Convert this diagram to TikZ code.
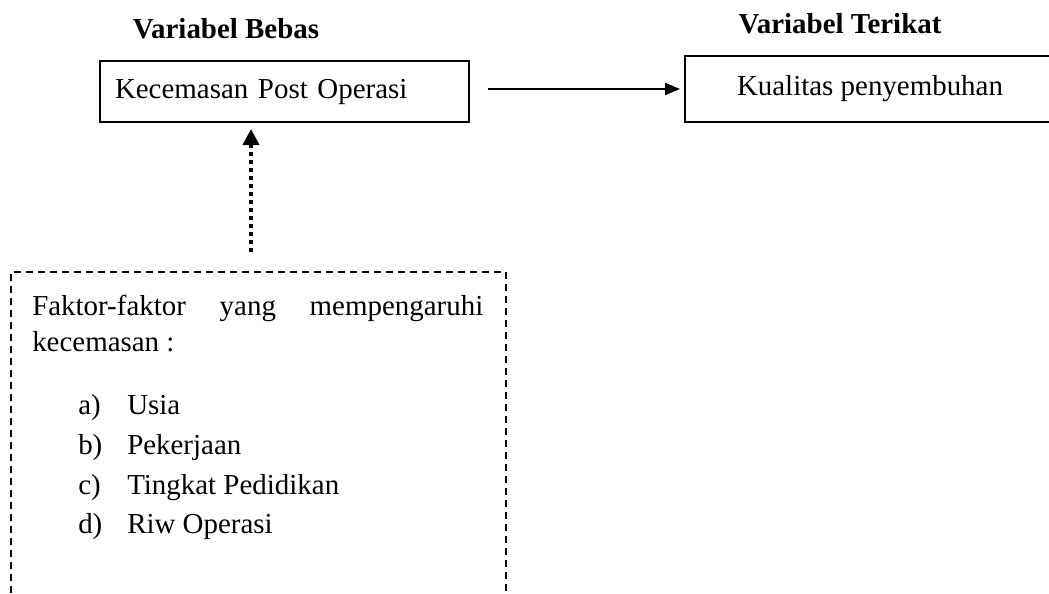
\documentclass[tikz,border=0pt]{standalone}
\usepackage{fontspec}
\setmainfont{Liberation Serif}
\usetikzlibrary{arrows.meta}
\begin{document}
\begin{tikzpicture}[x=0.75pt,y=-0.75pt,
  every node/.style={font=\fontsize{21.7pt}{26pt}\selectfont, inner sep=0pt},
  header/.style={font=\fontsize{21.7pt}{26pt}\selectfont\bfseries, anchor=base},
  varbox/.style={draw, line width=1.5pt},
  factorframe/.style={draw, line width=1.3pt, dash pattern=on 5.25pt off 3.75pt},
  txt/.style={anchor=base west},
  dotarrow/.style={line width=3pt, dash pattern=on 3pt off 3pt,
    -{Triangle[length=12pt,width=12pt]}},
  solidarrow/.style={line width=1.6pt, -{Triangle[length=11.25pt,width=9pt]}},
  ]
\useasboundingbox (0,0) rectangle (1049,593);
\node[header] (hb) at (226,38) {Variabel Bebas};
\node[header] (ht) at (840,33) {Variabel Terikat};
\node[varbox, minimum width=276.75pt, minimum height=45.75pt, text width=254.25pt, align=left] (box1) at (284.5,91.5) {Kecemasan Post Operasi};
\node[varbox, minimum width=277.5pt, minimum height=49.5pt] (box2) at (870,89) {Kualitas penyembuhan};
\node[factorframe, anchor=north west, minimum width=371.25pt, minimum height=300pt] (faktorbox) at (10,271) {};
\node[txt] (l1) at (32,315) {\makebox[338.25pt][s]{Faktor-faktor yang mempengaruhi}};
\node[txt] (l2) at (32,351) {kecemasan :};
\node[txt] (ia) at (78,414) {\makebox[36.75pt][l]{a)}Usia};
\node[txt] (ib) at (78,454) {\makebox[36.75pt][l]{b)}Pekerjaan};
\node[txt] (ic) at (78,494) {\makebox[36.75pt][l]{c)}Tingkat Pedidikan};
\node[txt] (id) at (78,533) {\makebox[36.75pt][l]{d)}Riw Operasi};
\coordinate (dotx) at (251,0);
\draw[dotarrow, shorten <=14.25pt, shorten >=4.5pt] (faktorbox.north -| dotx) -- (box1.south -| dotx);
\draw[solidarrow, shorten <=13.5pt, shorten >=3pt] (box1.east |- box2.west) -- (box2.west);
\end{tikzpicture}
\end{document}
